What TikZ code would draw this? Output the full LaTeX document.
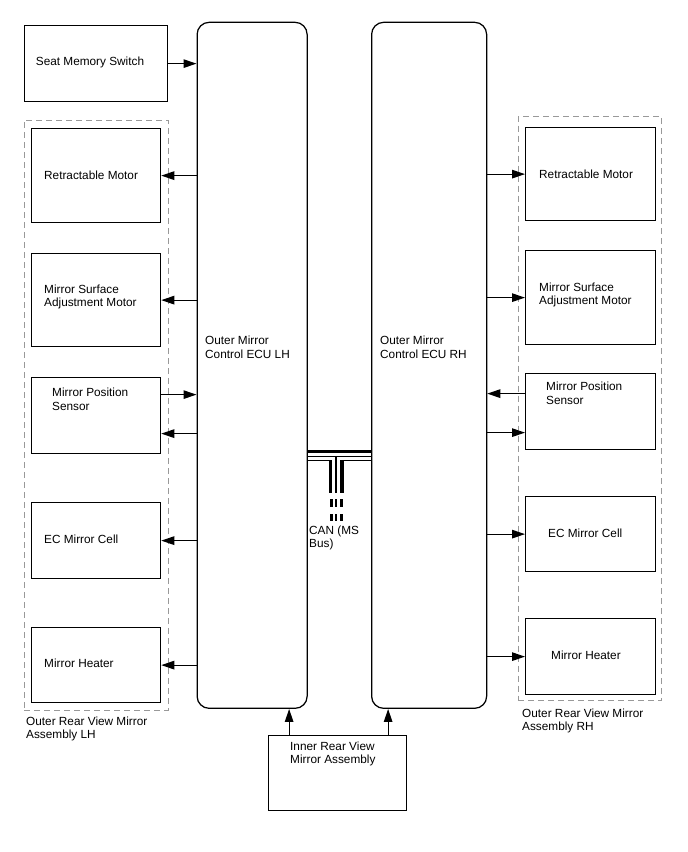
\documentclass[tikz,border=0pt]{standalone}
\usepackage{fontspec}
\setmainfont{Liberation Sans}
\usetikzlibrary{arrows.meta,calc}
\begin{document}
\begin{tikzpicture}[x=1pt,y=-1pt,
  every node/.style={font=\fontsize{11.8pt}{13.5pt}\selectfont},
  box/.style={draw, line width=1.25pt, inner sep=0pt, anchor=north west},
  ecu/.style={box, rounded corners=12pt},
  grp/.style={draw=black!40, line width=1pt, dash pattern=on 6pt off 4pt, inner sep=0pt, anchor=north west},
  txt/.style={anchor=base west, inner sep=0pt, align=left},
  arr/.style={line width=1.2pt, -{Triangle[length=13pt,width=8.5pt]}},
  canthick/.style={line width=3pt},
  canthin/.style={line width=1.2pt}]
\useasboundingbox (0,0) rectangle (688,852);

% groups
\node[grp, minimum width=144pt, minimum height=590pt] (lgrp) at (23.5,119.5) {};
\node[grp, minimum width=143.5pt, minimum height=584pt] (rgrp) at (517.5,116) {};

% main boxes
\node[box, minimum width=143pt, minimum height=76pt] (seat) at (24,25) {};
\node[ecu, minimum width=110pt, minimum height=686pt] (ecul) at (196.5,21.7) {};
\node[ecu, minimum width=115pt, minimum height=686pt] (ecur) at (371,21.7) {};
\node[box, minimum width=138pt, minimum height=75.5pt] (inner) at (267.5,734.5) {};

% left boxes
\node[box, minimum width=129pt, minimum height=94pt] (lret) at (31,128) {};
\node[box, minimum width=129pt, minimum height=93pt] (lsurf) at (31,253) {};
\node[box, minimum width=129pt, minimum height=76pt] (lsens) at (31,377) {};
\node[box, minimum width=129pt, minimum height=76pt] (lec) at (31,502) {};
\node[box, minimum width=129pt, minimum height=75pt] (lheat) at (31,627) {};

% right boxes
\node[box, minimum width=130pt, minimum height=93pt] (rret) at (525,127) {};
\node[box, minimum width=130pt, minimum height=94pt] (rsurf) at (525,250) {};
\node[box, minimum width=130pt, minimum height=76pt] (rsens) at (525,373) {};
\node[box, minimum width=130pt, minimum height=75pt] (rec) at (525,496) {};
\node[box, minimum width=130pt, minimum height=76pt] (rheat) at (525,618) {};

% texts (base anchor of multi-line nodes = last line)
\node[txt] (tseat) at (35.7,65) {Seat Memory Switch};
\node[txt] (tecul) at (205,358.2) {Outer Mirror\\Control ECU LH};
\node[txt] (tecur) at (380,358.2) {Outer Mirror\\Control ECU RH};
\node[txt] (tinner) at (290,763.5) {Inner Rear View\\Mirror Assembly};
\node[txt] (tlret) at (44,179) {Retractable Motor};
\node[txt] (tlsurf) at (44,306.5) {Mirror Surface\\Adjustment Motor};
\node[txt] (tlsens) at (52,410.2) {Mirror Position\\Sensor};
\node[txt] (tlec) at (44,543) {EC Mirror Cell};
\node[txt] (tlheat) at (44,667) {Mirror Heater};
\node[txt] (trret) at (539,178) {Retractable Motor};
\node[txt] (trsurf) at (539,304.5) {Mirror Surface\\Adjustment Motor};
\node[txt] (trsens) at (546,404) {Mirror Position\\Sensor};
\node[txt] (trec) at (548,537) {EC Mirror Cell};
\node[txt] (trheat) at (551,659) {Mirror Heater};
\node[txt] (tlgrp) at (26,738.5) {Outer Rear View Mirror\\Assembly LH};
\node[txt] (trgrp) at (522,730.5) {Outer Rear View Mirror\\Assembly RH};
\node[txt] (tcan) at (309,547.5) {CAN (MS\\Bus)};

% left arrows
\draw[arr] (seat.east) -- (seat.east -| ecul.west);
\draw[arr] (lret.east -| ecul.west) -- (lret.east);
\draw[arr] (lsurf.east -| ecul.west) -- (lsurf.east);
\draw[arr] ([yshift=21pt]lsens.east) -- ([yshift=21pt]lsens.east -| ecul.west);
\draw[arr] ([yshift=-18pt]lsens.east -| ecul.west) -- ([yshift=-18pt]lsens.east);
\draw[arr] (lec.east -| ecul.west) -- (lec.east);
\draw[arr] (lheat.east -| ecul.west) -- (lheat.east);

% right arrows
\draw[arr] (rret.west -| ecur.east) -- (rret.west);
\draw[arr] (rsurf.west -| ecur.east) -- (rsurf.west);
\draw[arr] ([yshift=18pt]rsens.west) -- ([yshift=18pt]rsens.west -| ecur.east);
\draw[arr] ([yshift=-21pt]rsens.west -| ecur.east) -- ([yshift=-21pt]rsens.west);
\draw[arr] (rec.west -| ecur.east) -- (rec.west);
\draw[arr] (rheat.west -| ecur.east) -- (rheat.west);

% inner mirror arrows
\draw[arr] ([xshift=-48pt]inner.north) -- ([xshift=-48pt]inner.north |- ecul.south);
\draw[arr] ([xshift=51pt]inner.north) -- ([xshift=51pt]inner.north |- ecur.south);

% CAN bus
\coordinate (cA) at (0,451.5);
\coordinate (cB) at (0,456.5);
\coordinate (cC) at (0,460.5);
\coordinate (s1) at (331,0);
\coordinate (s2) at (336,0);
\coordinate (s3) at (341,0);
\coordinate (e0) at (0,493);
\coordinate (d1) at (0,499);
\coordinate (d2) at (0,507);
\coordinate (d3) at (0,514);
\coordinate (d4) at (0,521);
\draw[canthick] (cA -| ecul.east) -- (cA -| ecur.west);
\draw[canthin] (cB -| ecul.east) -- (cB -| ecur.west);
\draw[canthin] (cC -| ecul.east) -- (cC -| s1) -- (e0 -| s1);
\draw[canthin] (cC -| ecur.west) -- (cC -| s3) -- (e0 -| s3);
\draw[canthick] ([xshift=-1pt]cC -| s1) -- ([xshift=-1pt]e0 -| s1);
\draw[canthick] ([xshift=1pt]cC -| s3) -- ([xshift=1pt]e0 -| s3);
\draw[canthin] (cB -| s2) -- (e0 -| s2);
\foreach \s/\w in {s1/canthick,s2/canthin,s3/canthick}{
  \draw[\w] (d1 -| \s) -- (d2 -| \s);
  \draw[\w] (d3 -| \s) -- (d4 -| \s);
}
\end{tikzpicture}
\end{document}
